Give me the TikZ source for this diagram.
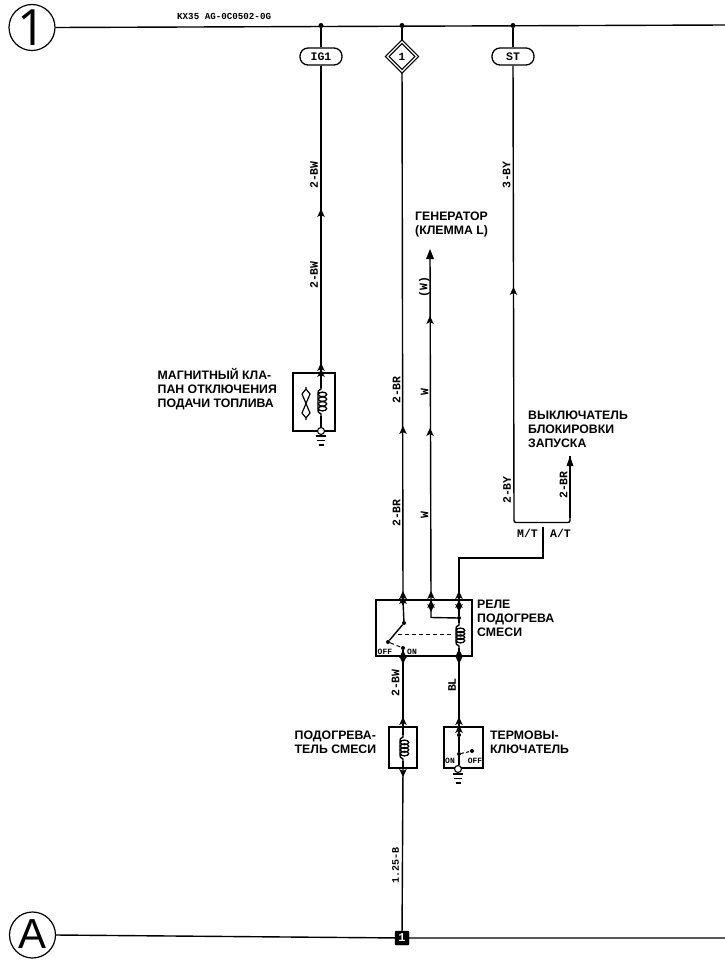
\documentclass[tikz,border=0pt]{standalone}
\usepackage{fontspec}
\setmainfont{Liberation Sans}
\newfontfamily\wirefont{Liberation Mono}
\newfontfamily\bubblefont{Open Sans}
\usetikzlibrary{shapes.geometric}
\tikzset{
  wire/.style={line width=1.4pt,black},
  box/.style={draw,line width=1.2pt,black},
  dashwire/.style={line width=1pt,black,dash pattern=on 4pt off 3pt},
  joint/.style={circle,fill=black,inner sep=0pt,minimum size=5pt},
  smalljoint/.style={circle,fill=black,inner sep=0pt,minimum size=4pt},
  title/.style={font=\fontsize{12.3}{14}\selectfont\bfseries,anchor=west,align=left,inner sep=0pt,text=black},
  code/.style={font=\wirefont\fontsize{11.5}{12}\selectfont\bfseries,rotate=90,inner sep=0pt},
  tiny code/.style={font=\wirefont\fontsize{8}{8}\selectfont\bfseries,inner sep=0pt},
  mid code/.style={font=\wirefont\fontsize{11.5}{12}\selectfont\bfseries,inner sep=0pt},
  terminal/.style={draw,line width=1.3pt,rounded corners=8pt,minimum width=42pt,minimum height=17pt,inner sep=0pt,fill=white,font=\wirefont\fontsize{11.5}{11}\selectfont\bfseries},
  bubble/.style={draw,circle,line width=1.2pt,minimum size=46pt,inner sep=0pt,fill=white},
  groundring/.style={draw,circle,line width=1.1pt,minimum size=7pt,inner sep=0pt,fill=white},
}
\newcommand{\tipup}[2]{\fill[black] (#1-3.8,#2+4) -- (#1,#2-4) -- (#1+3.8,#2+4) -- (#1,#2+2) -- cycle;}
\newcommand{\tipdown}[2]{\fill[black] (#1-3.8,#2-4) -- (#1,#2+4) -- (#1+3.8,#2-4) -- (#1,#2-2) -- cycle;}
% #1 = x of the wire, #2 = top of the coil, #3 = bottom of the coil: four turns set to the right
\newcommand{\coilv}[3]{%
  \draw[line width=1.4pt,black] (#1,#2-5) -- (#1,#2-3) .. controls (#1-3,#2-1) .. (#1-3,#2+1)
    -- (#1-3,#3-1) .. controls (#1-3,#3+1) .. (#1,#3+3) -- (#1,#3+5);
  \foreach \k in {0,1,2,3}{\draw[line width=1.3pt,black] (#1+1.5,{#2+2.4+\k*(#3-#2-4.8)/3}) ellipse (4.2 and 2.3);}}
\newcommand{\groundbars}[2]{\draw[line width=1.2pt,black] (#1-5,#2) -- (#1+5,#2) (#1-4,#2+4.5) -- (#1+4,#2+4.5) (#1-2.5,#2+9) -- (#1+2.5,#2+9);}
\begin{document}
\begin{tikzpicture}[x=1pt,y=-1pt]
\useasboundingbox (0,0) rectangle (725,962);
% buses
\node[bubble] (top) at (32,27.5) {\bubblefont\fontsize{50}{50}\selectfont 1};
\node[bubble] (bot) at (32.5,935) {\raisebox{2pt}{\fontsize{42}{42}\selectfont A}};
\coordinate (topR) at (725,25);
\coordinate (botR) at (725,938);
\draw[wire] (top.east) -- (topR);
\node[tiny code,font=\wirefont\fontsize{9.2}{9}\selectfont\bfseries,anchor=west] (kx) at (177,16) {KX35 AG-0C0502-0G};
\node[joint] (j1) at (321,25.5) {};
\node[joint] (j2) at (402,25.5) {};
\node[joint] (j3) at (513,25.5) {};
\node[terminal] (ig) at (321,56.5) {IG1};
\node[draw,diamond,line width=1.3pt,minimum size=30pt,inner sep=0pt,fill=white,double,double distance=1.2pt,font=\wirefont\fontsize{11}{11}\selectfont\bfseries] (dia) at (402,56.5) {1};
\node[terminal] (st) at (513,56.5) {ST};
\node[draw,fill=black,text=white,minimum size=14pt,inner sep=0pt,rounded corners=1pt,font=\wirefont\fontsize{12}{12}\selectfont\bfseries] (gnd1) at (402,938) {1};
\draw[wire] (bot.east) -- (gnd1) -- (botR);
% left branch
\node[box,minimum width=42pt,minimum height=58pt,inner sep=0pt] (valve) at (314,402) {};
\coordinate (valveT) at (321,373);
\coordinate (valveB) at (321,431);
\draw[wire] (j1) -- (ig);
\draw[wire] (ig) -- (valveT);
\tipup{321}{213}\tipup{321}{367}\tipup{321}{373}
\draw[wire] (valveT) -- (321,388);
\coilv{321}{392}{411}
\draw[wire] (321,416) -- (valveB);
\draw[line width=1.2pt,black] (306,387) -- (306,389) (302,394) -- (306,389) -- (310,394) -- (302,413) -- (306,418) -- (310,413) -- (302,394) (306,418) -- (306,420);
\node[groundring] (vg) at (321,431) {};
\groundbars{321}{436}
\node[code] (l1) at (314,175) {2-BW};
\node[code] (l2) at (314,275) {2-BW};
\node[title] (t1) at (157.5,389.5) {МАГНИТНЫЙ КЛА-\\ПАН ОТКЛЮЧЕНИЯ\\ПОДАЧИ ТОПЛИВА};
% relay
\node[box,minimum width=96pt,minimum height=56pt,inner sep=0pt] (relay) at (424,628) {};
\coordinate (r1t) at (403,600);
\coordinate (r2t) at (431,600);
\coordinate (r3t) at (459,600);
\coordinate (r1b) at (403,656);
\coordinate (r3b) at (459,656);
% middle
\draw[wire] (j2) -- (dia);
\draw[wire] (dia) -- (r1t);
\tipup{403}{430}\tipup{403}{595}\tipup{403}{600}\tipdown{403}{602}
\node[code] (l3) at (396.5,390) {2-BR};
\node[code] (l4) at (396.5,513) {2-BR};
% generator
\coordinate (genTip) at (430,251);
\draw[wire] (r2t) -- (genTip);
\fill[black] (426,259) -- (430,249) -- (434,259) -- cycle;
\tipup{430}{320}\tipup{430}{432}\tipup{431}{595}\tipup{431}{604}\tipdown{431}{608}
\node[code] (l5) at (424.5,287) {(W)};
\node[code] (l6) at (424.5,392) {W};
\node[code] (l7) at (424.5,515) {W};
\node[title] (t2) at (415,224) {ГЕНЕРАТОР\\(КЛЕММА L)};
% inside relay
\node[smalljoint] (sw1) at (404,623) {};
\node[smalljoint] (sw2) at (388,642) {};
\node[smalljoint] (sw3) at (403,648) {};
\node[smalljoint] (sw4) at (459,618) {};
\draw[wire] (r1t) -- (sw1) -- (sw2);
\draw[dashwire] (sw2) -- (sw3);
\draw[wire] (sw3) -- (r1b);
\draw[dashwire] (398,634.5) -- (453,634.5);
\draw[wire] (r2t) -- (431,617.5) -- (sw4);
\draw[wire] (r3t) -- (sw4);
\coilv{459}{628}{643}
\draw[wire] (sw4) -- (459,623);
\draw[wire] (459,648) -- (r3b);
\tipup{459}{595}\tipup{459}{604}\tipdown{459}{608}\tipup{459}{653}
\node[tiny code,anchor=west] (off) at (377.5,651.5) {OFF};
\node[tiny code,anchor=west] (on) at (407,651.5) {ON};
\node[title] (t3) at (477,618) {РЕЛЕ\\ПОДОГРЕВА\\СМЕСИ};
\tipdown{403}{660}\tipdown{459}{660}\tipup{403}{654}
% heater
\node[box,minimum width=28pt,minimum height=41pt,inner sep=0pt] (heat) at (403,747.5) {};
\draw[wire] (r1b) -- (heat.north);
\draw[wire] (heat.north) -- (403,735);
\coilv{403}{740}{756}
\draw[wire] (403,761) -- (heat.south);
\draw[wire] (heat.south) -- (gnd1);
\tipup{403}{721}\tipdown{403}{773}
\node[code] (l8) at (395.5,683) {2-BW};
\node[code,font=\wirefont\fontsize{10}{10}\selectfont\bfseries] (l9) at (395.5,865) {1.25-B};
\node[title] (t4) at (294.5,742) {ПОДОГРЕВА-\\ТЕЛЬ СМЕСИ};
% thermo switch
\node[box,minimum width=39pt,minimum height=41pt,inner sep=0pt] (thermo) at (463.5,747.5) {};
\draw[wire] (r3b) -- (459,727);
\node[smalljoint] (th1) at (459,735) {};
\node[smalljoint] (th2) at (459,754) {};
\node[smalljoint] (th3) at (472,751) {};
\draw[wire] (459,727) -- (th1) -- (th2) -- (459,765);
\draw[dashwire,dash pattern=on 3pt off 2pt] (th2) -- (th3);
\tipup{459}{721}\tipup{459}{729}
\node[groundring] (tg) at (458,769) {};
\groundbars{458}{774}
\node[tiny code] (on2) at (450,761) {ON};
\node[tiny code] (off2) at (475,761) {OFF};
\node[code] (l10) at (452,685) {BL};
\node[title] (t5) at (490,742) {ТЕРМОВЫ-\\КЛЮЧАТЕЛЬ};
% right branch
\coordinate (brL) at (514,518);
\coordinate (brR) at (570,518);
\coordinate (brM) at (543,527);
\draw[wire] (j3) -- (st);
\draw[wire] (st) -- (brL);
\tipup{513.5}{291}
\node[code] (l11) at (506.5,175) {3-BY};
\node[code] (l12) at (507,490) {2-BY};
\draw[wire,rounded corners=2pt] (brL) -- (514,522.5) -- (543,522.5) -- (570,522.5) -- (brR);
\coordinate (st2) at (570,456);
\draw[wire] (brR) -- (st2);
\fill[black] (566.5,466) -- (570,456) -- (573.5,466) -- cycle;
\node[code] (l13) at (563.5,485) {2-BR};
\node[mid code] (mt) at (527.5,533) {M/T};
\node[mid code] (at) at (560.5,533) {A/T};
\draw[wire] (brM) -- (543,558) -- (459,558) -- (r3t);
\node[title] (t6) at (528,429) {ВЫКЛЮЧАТЕЛЬ\\БЛОКИРОВКИ\\ЗАПУСКА};
\end{tikzpicture}
\end{document}
